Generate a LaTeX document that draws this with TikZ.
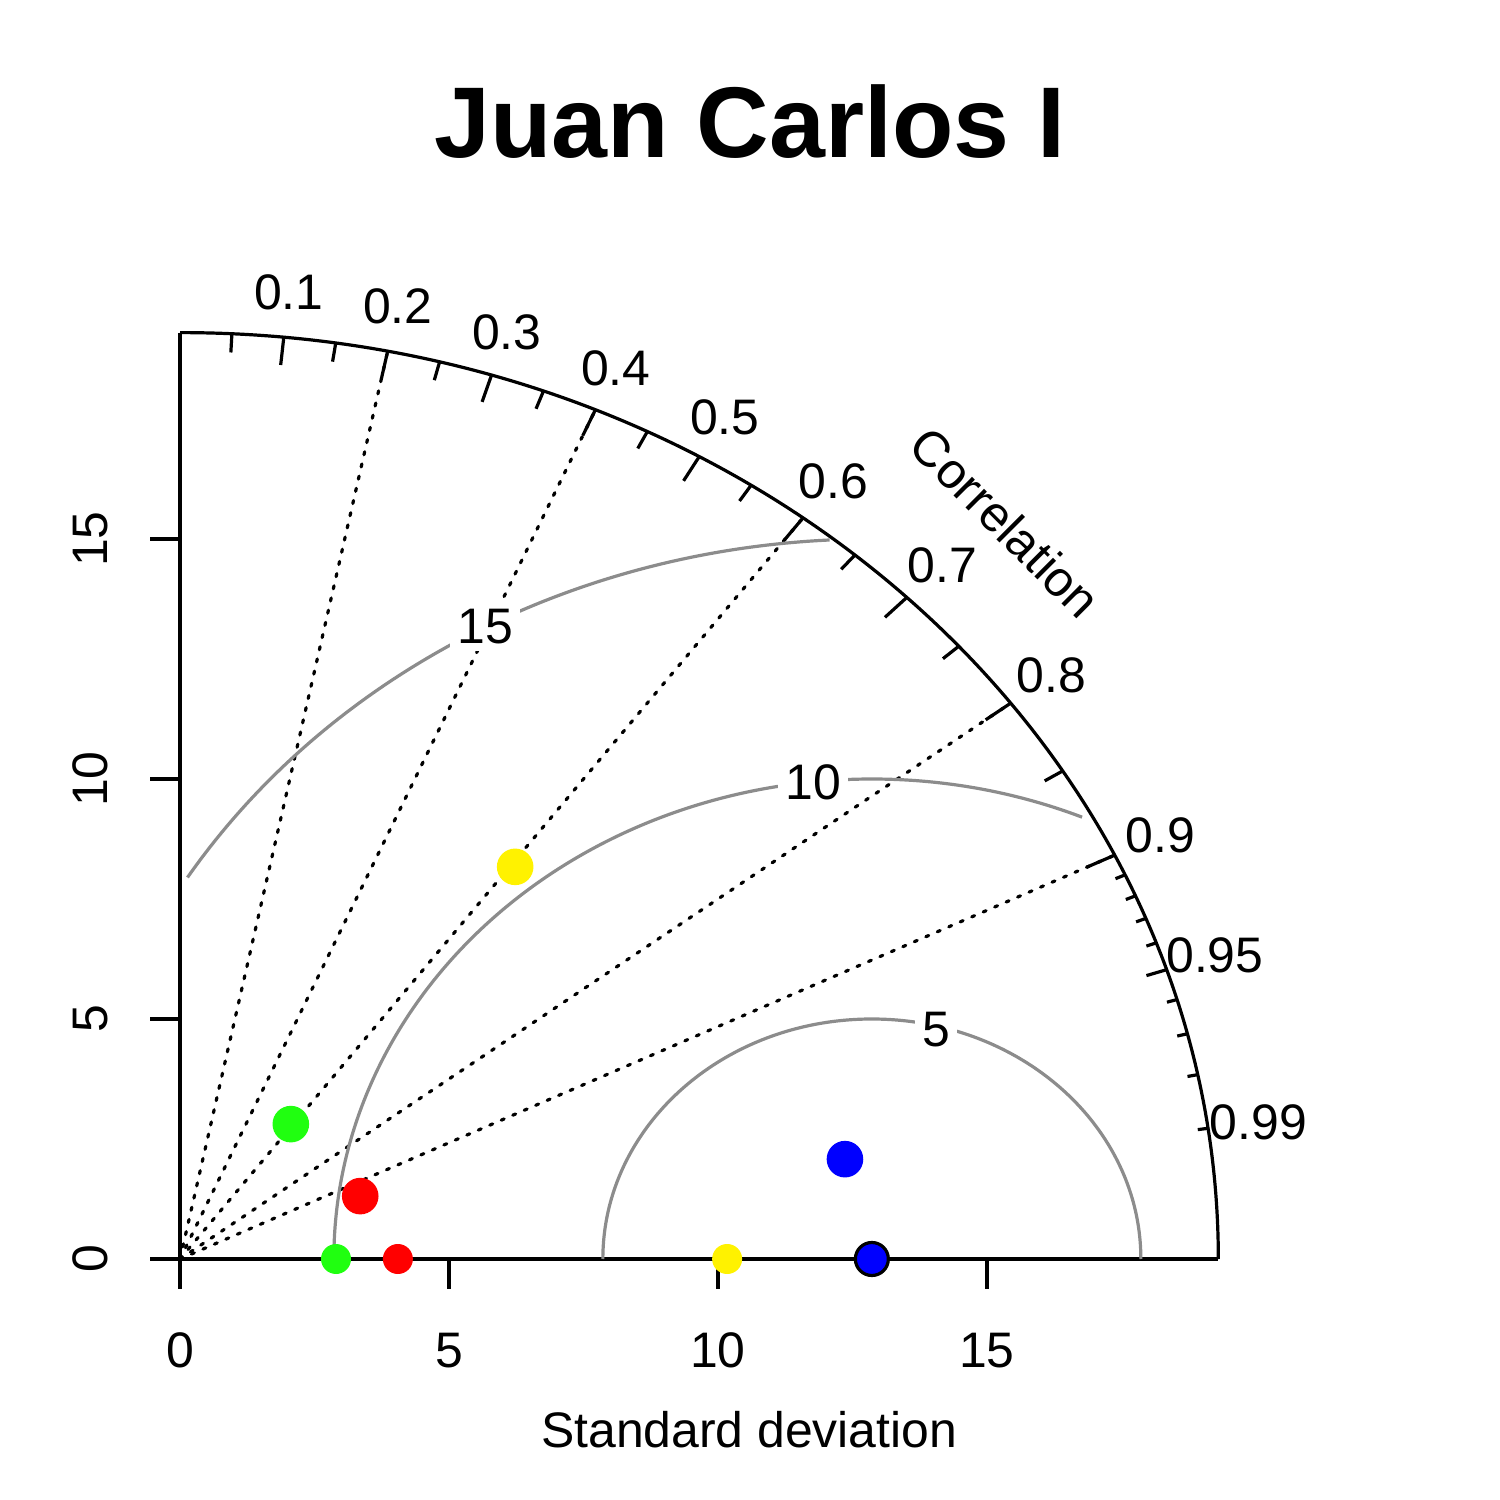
\documentclass[tikz,border=0pt]{standalone}
\usepackage{fontspec}
\setmainfont{Liberation Sans}
\usetikzlibrary{calc}
\definecolor{ptgreen}{RGB}{32,255,16}

\begin{document}
\begin{tikzpicture}[x=0.538cm,y=0.48cm,line width=0.032cm,
    every node/.style={font=\fontsize{14.2}{17}\selectfont,inner sep=0pt},
    corrray/.style={dash pattern=on 0.031cm off 0.094cm,line cap=round},
    rmsarc/.style={black!45},
    rmslab/.style={fill=white,inner sep=0.07cm},
    bigdot/.style={circle,minimum size=0.366cm,inner sep=0pt},
    smalldot/.style={circle,minimum size=0.3cm,inner sep=0pt}]
  \useasboundingbox (-1.8cm,-2.41cm) rectangle (13.2cm,12.59cm);

  % title and axis labels
  \node[anchor=base,font=\fontsize{28.6}{34}\selectfont\bfseries] (title) at (10.59,22.94) {Juan Carlos I};
  \node[anchor=base] (sdlab) at (10.58,-3.92) {Standard deviation};
  \node[rotate=-45] (corlab) at (45:21.7) {Correlation};

  % axes
  \coordinate (o) at (0,0);
  \coordinate (top) at (0,19.3);
  \coordinate (right) at (19.3,0);
  \draw (top) -- (o) -- (right);
  \foreach \v in {0,5,10,15} {
    \draw (\v,0) -- ++(0,-0.3cm);
    \node[anchor=base] (xt\v) at (\v,-2.27) {\v};
    \draw (0,\v) -- ++(-0.3cm,0);
    \node[rotate=90,anchor=base] (yt\v) at (-1.34,\v) {\v};
  }

  % correlation rays
  \foreach \c in {0.2,0.4,0.6,0.8,0.9}
    \draw[corrray] (o) -- ({acos(\c)}:19.3);

  % outer arc, ticks and labels
  \draw (right) arc[start angle=0,end angle=90,radius=19.3];
  \foreach \c in {0.1,0.2,0.3,0.4,0.5,0.6,0.7,0.8,0.9}
    \draw ({acos(\c)}:19.3) -- ({acos(\c)}:18.72);
  \foreach \c in {0.05,0.15,0.25,0.35,0.45,0.55,0.65,0.75,0.85,0.95}
    \draw ({acos(\c)}:19.3) -- ({acos(\c)}:18.91);
  \foreach \c in {0.91,0.92,0.93,0.94,0.96,0.97,0.98,0.99}
    \draw ({acos(\c)}:19.3) -- ({acos(\c)}:19.11);
  \foreach \c [count=\i] in {0.1,0.2,0.3,0.4,0.5,0.6,0.7,0.8,0.9,0.95,0.99}
    \node (cl\i) at ({acos(\c)}:20.25) {\c};

  % centred rms arcs
  \coordinate (ref) at (12.86,0);
  \draw[rmsarc] (ref) ++(0:5) arc[start angle=0,end angle=180,radius=5];
  \draw[rmsarc] (ref) ++(67:10) arc[start angle=67,end angle=180,radius=10];
  \draw[rmsarc] (ref) ++(93:15) arc[start angle=93,end angle=148,radius=15];
  \node[rmslab] (g5) at (14.05,4.79) {5};
  \node[rmslab] (g10) at (11.77,9.94) {10};
  \node[rmslab] (g15) at (5.67,13.17) {15};

  % model points
  \node[bigdot,fill=ptgreen] (pg) at (2.06,2.81) {};
  \node[bigdot,fill=red] (pr) at (3.35,1.31) {};
  \node[bigdot,fill=yellow] (py) at (6.23,8.17) {};
  \node[bigdot,fill=blue] (pb) at (12.36,2.08) {};
  \node[smalldot,fill=ptgreen] (sg) at (2.90,0) {};
  \node[smalldot,fill=red] (sr) at (4.05,0) {};
  \node[smalldot,fill=yellow] (sy) at (10.17,0) {};
  \node[smalldot,fill=blue,draw=black,minimum size=0.33cm] (sref) at (ref) {};
\end{tikzpicture}
\end{document}
